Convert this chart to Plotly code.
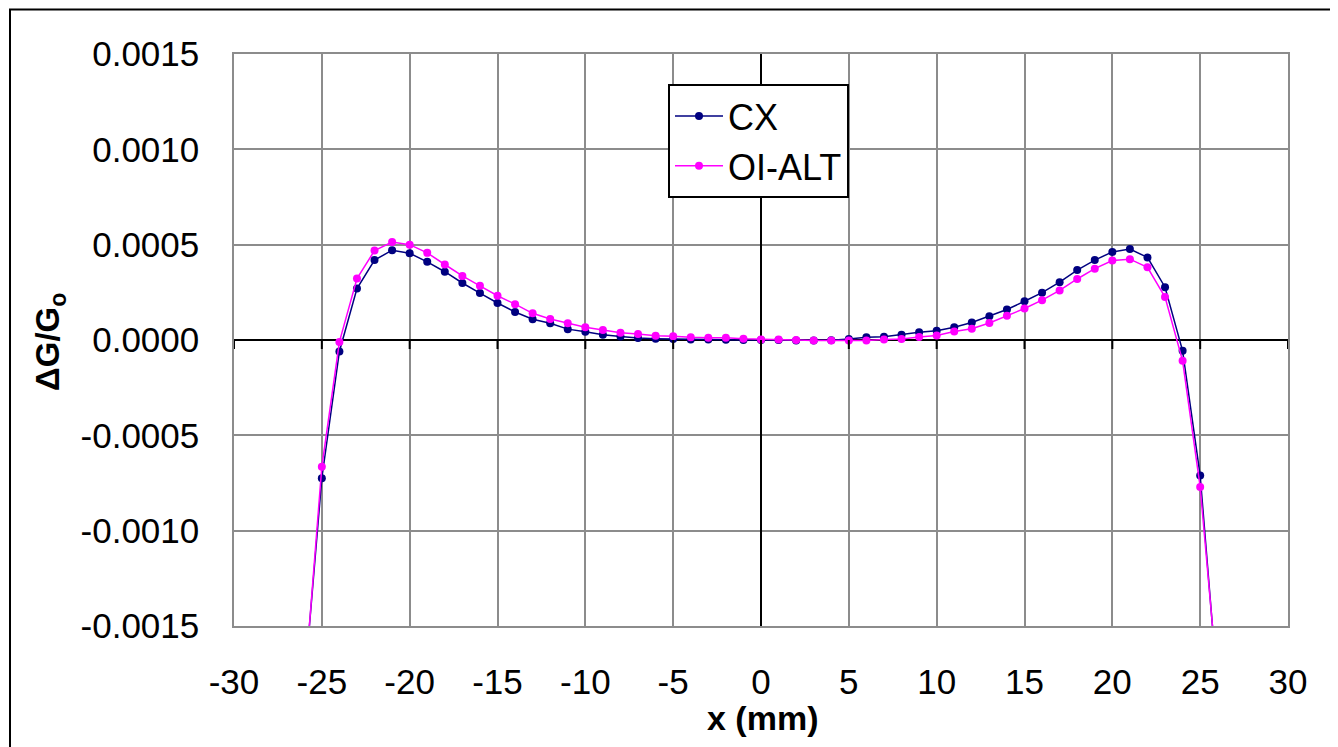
import plotly.graph_objects as go

x_mm = list(range(-26, 27))

cx = [-0.00182, -0.000725, -0.000060, 0.000270, 0.000419, 0.000471, 0.000455, 0.000410,
      0.000358, 0.000299, 0.000246, 0.000194, 0.000147, 0.000109, 0.000088, 0.000057,
      0.000043, 0.000027, 0.000019, 0.000010, 0.000007, 0.000005, 0.000003, 0.000002,
      0.000001, 0.000000, 0.000000, 0.000000, -0.000002, -0.000002, -0.000001, 0.000005,
      0.000015, 0.000017, 0.000028, 0.000041, 0.000048, 0.000067, 0.000092, 0.000124,
      0.000160, 0.000203, 0.000248, 0.000303, 0.000367, 0.000419, 0.000462, 0.000477,
      0.000433, 0.000277, -0.000057, -0.000711, -0.00184]

oi_alt = [-0.00184, -0.000665, -0.000010, 0.000322, 0.000469, 0.000514, 0.000500, 0.000457,
          0.000396, 0.000336, 0.000284, 0.000232, 0.000188, 0.000140, 0.000110, 0.000088,
          0.000067, 0.000053, 0.000038, 0.000031, 0.000022, 0.000020, 0.000014, 0.000012,
          0.000012, 0.000006, 0.000003, 0.000003, 0.000000, -0.000002, -0.000002, -0.000002,
          -0.000002, 0.000003, 0.000005, 0.000016, 0.000024, 0.000045, 0.000059, 0.000089,
          0.000127, 0.000165, 0.000209, 0.000260, 0.000320, 0.000374, 0.000417, 0.000424,
          0.000381, 0.000225, -0.000109, -0.000771, -0.00181]

series_names = ["CX", "OI-ALT"]
series_colors = ["#000080", "#FF00FF"]

x_ticks = [-30, -25, -20, -15, -10, -5, 0, 5, 10, 15, 20, 25, 30]
x_ticktext = ["-30", "-25", "-20", "-15", "-10", "-5", "0", "5", "10", "15", "20", "25", "30"]
y_ticks = [-0.0015, -0.0010, -0.0005, 0.0, 0.0005, 0.0010, 0.0015]
y_ticktext = ["-0.0015", "-0.0010", "-0.0005", "0.0000", "0.0005", "0.0010", "0.0015"]

FONT = "Liberation Sans, Arial, sans-serif"
OFF = 8  # page body margin
W, H = 1330, 739
# target plot area in screen pixels: left 234, right 1288, top 54, bottom 626
L = 234 - OFF
T = 54 - OFF
R = W - (1288 - OFF)
B = H - (626 - OFF)
pw, ph = W - L - R, H - T - B


def px_x(sx):
    return (sx - OFF - L) / pw


def px_y(sy):
    return 1 - (sy - OFF - T) / ph


fig = go.Figure()
for name, vals, col in zip(series_names, [cx, oi_alt], series_colors):
    fig.add_trace(go.Scatter(
        x=x_mm, y=vals, name=name, mode="lines+markers", legendgroup=name,
        line=dict(color=col, width=1.5),
        marker=dict(color=col, size=8, symbol="circle"),
    ))

shapes = []
for xv in x_ticks:
    shapes.append(dict(type="line", xref="x", yref="y", x0=xv, x1=xv,
                       ysizemode="pixel", yanchor=0, y0=0, y1=-9,
                       line=dict(color="black", width=2)))
shapes.append(dict(type="rect", xref="paper", yref="paper",
                   x0=px_x(10), x1=px_x(1360),
                   y0=px_y(770), y1=px_y(9.5),
                   line=dict(color="black", width=2), fillcolor="rgba(0,0,0,0)",
                   layer="above"))

fig.update_layout(
    width=W, height=H,
    margin=dict(l=L, r=R, t=T, b=B),
    paper_bgcolor="white", plot_bgcolor="white",
    font=dict(family=FONT, size=34, color="black"),
    showlegend=True,
    legend=dict(x=px_x(668), y=px_y(84), xanchor="left", yanchor="top",
                bgcolor="white", bordercolor="black", borderwidth=2,
                font=dict(size=36, family=FONT), itemwidth=48,
                tracegroupgap=0),
    xaxis=dict(range=[-30, 30], tickvals=x_ticks, ticktext=x_ticktext,
               showgrid=True, gridcolor="#8c8c8c", gridwidth=1.5,
               zeroline=True, zerolinecolor="black", zerolinewidth=2,
               showline=True, linecolor="#8c8c8c", linewidth=1.5, mirror=True,
               ticks="", tickfont=dict(size=35), ticklabelstandoff=24,
               fixedrange=True),
    yaxis=dict(range=[-0.0015, 0.0015], tickvals=y_ticks, ticktext=y_ticktext,
               showgrid=True, gridcolor="#8c8c8c", gridwidth=1.5,
               zeroline=True, zerolinecolor="black", zerolinewidth=2,
               showline=True, linecolor="#8c8c8c", linewidth=1.5, mirror=True,
               ticks="", tickfont=dict(size=35), ticklabelstandoff=26,
               fixedrange=True),
    shapes=shapes,
    annotations=[
        dict(text="<b>x (mm)</b>", xref="paper", yref="paper",
             x=px_x(762), y=px_y(718), xanchor="center", yanchor="middle",
             showarrow=False, font=dict(size=34, family=FONT)),
        dict(text="<b>ΔG/G<sub>o</sub></b>", xref="paper", yref="paper",
             x=px_x(50), y=px_y(342), xanchor="center", yanchor="middle",
             textangle=-90, showarrow=False, font=dict(size=33, family=FONT)),
    ],
)

fig.write_html("out.html")
